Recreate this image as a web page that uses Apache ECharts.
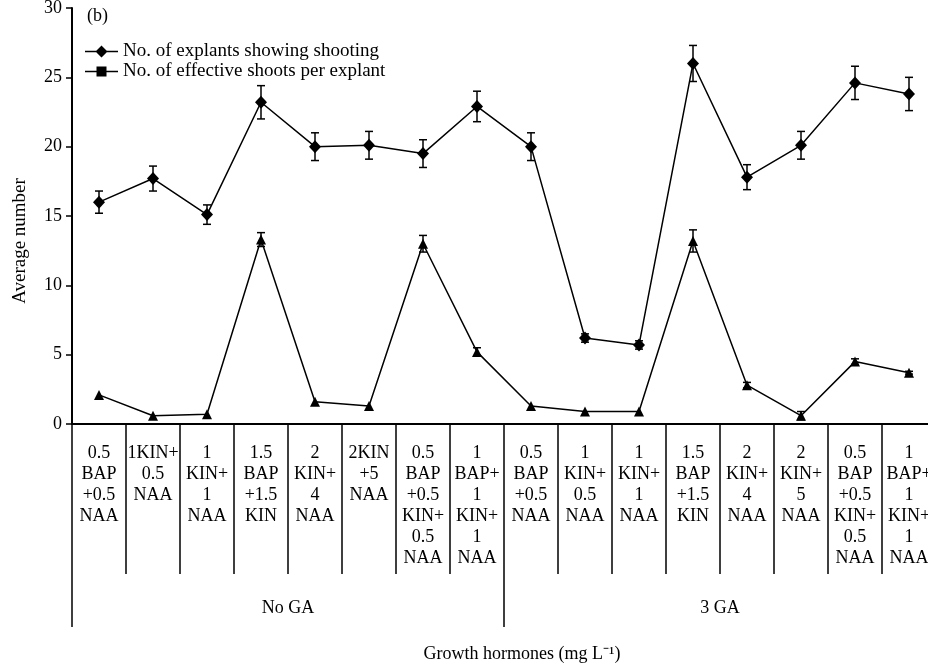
<!DOCTYPE html>
<html>
<head>
<meta charset="utf-8">
<script src="https://cdn.jsdelivr.net/npm/echarts@6/dist/echarts.min.js"></script>
<style>
  html, body { margin: 0; padding: 0; background: #fff; }
  #chart { width: 928px; height: 667px; }
</style>
</head>
<body>
<div id="chart"></div>
<script>
const FONT = '"Liberation Serif", "Times New Roman", serif';

const categories = [
    '0.5\nBAP\n+0.5\nNAA', '1KIN+\n0.5\nNAA', '1\nKIN+\n1\nNAA', '1.5\nBAP\n+1.5\nKIN',
    '2\nKIN+\n4\nNAA', '2KIN\n+5\nNAA', '0.5\nBAP\n+0.5\nKIN+\n0.5\nNAA', '1\nBAP+\n1\nKIN+\n1\nNAA',
    '0.5\nBAP\n+0.5\nNAA', '1\nKIN+\n0.5\nNAA', '1\nKIN+\n1\nNAA', '1.5\nBAP\n+1.5\nKIN',
    '2\nKIN+\n4\nNAA', '2\nKIN+\n5\nNAA', '0.5\nBAP\n+0.5\nKIN+\n0.5\nNAA', '1\nBAP+\n1\nKIN+\n1\nNAA'
];
const groups = ['No GA', '3 GA'];
const seriesNames = ['No. of explants showing shooting', 'No. of effective shoots per explant'];

const shootingMean = [16.0, 17.7, 15.1, 23.2, 20.0, 20.1, 19.5, 22.9, 20.0, 6.2, 5.7, 26.0, 17.8, 20.1, 24.6, 23.8];
const shootingErr = [0.8, 0.9, 0.7, 1.2, 1.0, 1.0, 1.0, 1.1, 1.0, 0.3, 0.3, 1.3, 0.9, 1.0, 1.2, 1.2];
const effectiveMean = [2.1, 0.6, 0.7, 13.3, 1.6, 1.3, 13.0, 5.2, 1.3, 0.9, 0.9, 13.2, 2.8, 0.6, 4.5, 3.7];
const effectiveErr = [0, 0, 0, 0.5, 0, 0, 0.6, 0.3, 0, 0, 0, 0.8, 0.2, 0.3, 0.2, 0.1];

function errorData(mean, err) {
    return mean.map((m, i) => [i, m - err[i], m + err[i]]).filter((d, i) => err[i] > 0);
}

function errorBarItem(params, api) {
    const i = api.value(0);
    const top = api.coord([i, api.value(2)]);
    const bottom = api.coord([i, api.value(1)]);
    const half = 4;
    const style = { stroke: '#000', lineWidth: 1.5 };
    return {
        type: 'group',
        children: [
            { type: 'line', shape: { x1: top[0], y1: top[1], x2: bottom[0], y2: bottom[1] }, style },
            { type: 'line', shape: { x1: top[0] - half, y1: top[1], x2: top[0] + half, y2: top[1] }, style },
            { type: 'line', shape: { x1: bottom[0] - half, y1: bottom[1], x2: bottom[0] + half, y2: bottom[1] }, style }
        ]
    };
}

const chart = echarts.init(document.getElementById('chart'));

chart.setOption({
    animation: false,
    textStyle: { fontFamily: FONT, color: '#000' },
    grid: { left: 72, top: 8, width: 864, height: 416, containLabel: false, outerBoundsMode: 'none' },
    legend: {
        orient: 'vertical',
        left: 80,
        top: 37,
        itemGap: 1,
        itemWidth: 33,
        itemHeight: 12,
        itemStyle: { color: '#000', borderWidth: 0 },
        textStyle: { fontFamily: FONT, fontSize: 19, color: '#000' },
        data: [
            { name: seriesNames[0], icon: 'path://M0,5.3H33V6.7H0Z M16.5,0L22.5,6L16.5,12L10.5,6Z' },
            { name: seriesNames[1], icon: 'path://M0,5.3H33V6.7H0Z M11.5,1H21.5V11H11.5Z' }
        ]
    },
    graphic: [
        { type: 'text', left: 87, top: 7, style: { text: '(b)', font: '18px ' + FONT, fill: '#000' } },
        {
            type: 'text', x: 20, y: 241, rotation: Math.PI / 2,
            style: { text: 'Average number', font: '19px ' + FONT, fill: '#000', align: 'center', verticalAlign: 'middle' }
        },
        {
            type: 'text', x: 522, y: 654,
            style: { text: 'Growth hormones (mg L\u207B\u00B9)', font: '18px ' + FONT, fill: '#000', align: 'center', verticalAlign: 'middle' }
        }
    ],
    xAxis: [
        {
            type: 'category',
            data: categories,
            boundaryGap: true,
            axisLine: { show: true, lineStyle: { color: '#000', width: 2 } },
            axisTick: { show: true, length: 150, interval: 0, lineStyle: { color: '#000', width: 1.5 } },
            axisLabel: { interval: 0, margin: 19, fontSize: 18, lineHeight: 21, color: '#000', fontFamily: FONT, align: 'center' },
            splitLine: { show: false }
        },
        {
            type: 'category',
            data: groups,
            position: 'bottom',
            boundaryGap: true,
            axisLine: { show: false },
            axisTick: { show: true, length: 203, interval: 0, lineStyle: { color: '#000', width: 1.5 } },
            axisLabel: { interval: 0, margin: 175, fontSize: 18, color: '#000', fontFamily: FONT },
            splitLine: { show: false }
        }
    ],
    yAxis: {
        type: 'value',
        min: 0,
        max: 30,
        interval: 5,
        axisLine: { show: true, lineStyle: { color: '#000', width: 2 } },
        axisTick: { show: true, length: 6, lineStyle: { color: '#000', width: 1.5 } },
        axisLabel: { fontSize: 18, margin: 10, color: '#000', fontFamily: FONT },
        splitLine: { show: false }
    },
    series: [
        {
            type: 'custom',
            name: 'shootingErr',
            renderItem: errorBarItem,
            data: errorData(shootingMean, shootingErr),
            encode: { x: 0, y: [1, 2] },
            z: 1
        },
        {
            type: 'custom',
            name: 'effectiveErr',
            renderItem: errorBarItem,
            data: errorData(effectiveMean, effectiveErr),
            encode: { x: 0, y: [1, 2] },
            z: 1
        },
        {
            type: 'line',
            name: seriesNames[0],
            data: shootingMean,
            symbol: 'diamond',
            symbolSize: [12, 13],
            itemStyle: { color: '#000' },
            lineStyle: { color: '#000', width: 1.5 },
            z: 3
        },
        {
            type: 'line',
            name: seriesNames[1],
            data: effectiveMean,
            symbol: 'triangle',
            symbolSize: 10,
            itemStyle: { color: '#000' },
            lineStyle: { color: '#000', width: 1.5 },
            z: 3
        }
    ]
});

window.addEventListener('resize', () => chart.resize());
</script>
</body>
</html>
